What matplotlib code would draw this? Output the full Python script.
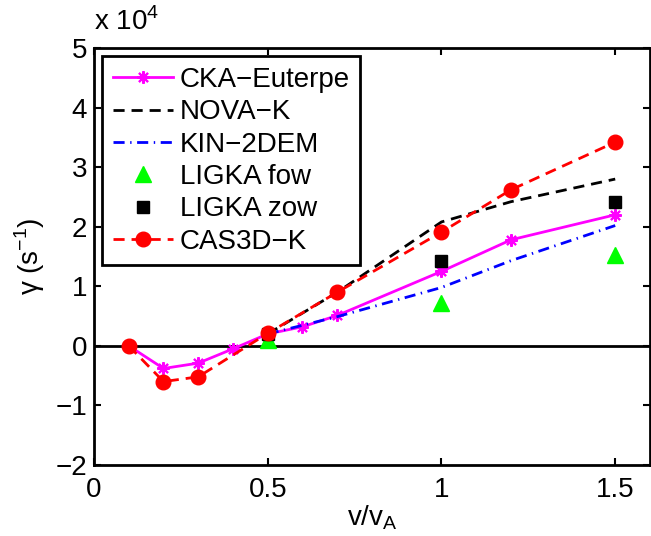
import matplotlib
matplotlib.use('Agg')
import matplotlib.pyplot as plt

plt.rcParams['font.family'] = ['Liberation Sans', 'DejaVu Sans']
plt.rcParams['mathtext.fontset'] = 'custom'
plt.rcParams['mathtext.rm'] = 'Liberation Sans'
plt.rcParams['lines.scale_dashes'] = False

# growth rates in units of 1e4 s^-1
x_cka = [0.1, 0.2, 0.3, 0.4, 0.5, 0.6, 0.7, 1.0, 1.2, 1.5]
y_cka = [0.0, -0.38, -0.29, -0.05, 0.2, 0.32, 0.51, 1.25, 1.78, 2.2]

x_nova = [0.5, 0.7, 1.0, 1.2, 1.5]
y_nova = [0.2, 0.9, 2.08, 2.42, 2.8]

x_kin = [0.5, 0.7, 1.0, 1.2, 1.5]
y_kin = [0.2, 0.49, 0.98, 1.43, 2.02]

x_fow = [0.5, 1.0, 1.5]
y_fow = [0.1, 0.72, 1.52]

x_zow = [0.5, 1.0, 1.5]
y_zow = [0.2, 1.42, 2.42]

x_cas = [0.1, 0.2, 0.3, 0.5, 0.7, 1.0, 1.2, 1.5]
y_cas = [0.0, -0.6, -0.52, 0.21, 0.9, 1.91, 2.62, 3.42]

fs = 20
fig = plt.figure(figsize=(6.51, 5.36), dpi=100)
ax = fig.add_axes([0.1444, 0.1325, 0.8540, 0.7779])

ax.axhline(0, color='k', lw=2, zorder=1)

ax.plot(x_cka, y_cka, '-', color='#ff00ff', lw=2, marker=(8, 2, 0), ms=9,
        mew=1.5, label='CKA\u2212Euterpe')
ax.plot(x_nova, y_nova, color='k', lw=2, dashes=(8, 5), label='NOVA\u2212K')
ax.plot(x_kin, y_kin, color='#0000ff', lw=2, dashes=(8, 4, 1, 4), label='KIN\u22122DEM')
ax.plot(x_fow, y_fow, '^', color='#00ff00', ms=12, mec='#00ff00', ls='none', label='LIGKA fow')
ax.plot(x_zow, y_zow, 's', color='k', ms=8, ls='none', label='LIGKA zow')
ax.plot(x_cas, y_cas, color='#ff0000', lw=2, dashes=(8, 5), marker='o', ms=10.5,
        label='CAS3D\u2212K')

ax.set_xlim(0, 1.6)
ax.set_ylim(-2, 5)
ax.set_xticks([0, 0.5, 1, 1.5])
ax.set_xticklabels(['0', '0.5', '1', '1.5'])
ax.set_yticks(range(-2, 6))
ax.set_yticklabels(['\u22122', '\u22121', '0', '1', '2', '3', '4', '5'])
ax.tick_params(direction='in', length=5, width=1.5, top=True, right=True,
               labelsize=fs)
ax.tick_params(axis='x', pad=9)
ax.tick_params(axis='y', pad=5)
for s in ax.spines.values():
    s.set_linewidth(2)

ax.set_xlabel(r'v/v$_\mathregular{A}$', fontsize=fs, labelpad=0)
ax.set_ylabel('\u03b3 (s$^{\\mathregular{-1}}$)', fontsize=fs, labelpad=6)
ax.text(0.0, 1.03, r'x 10$^\mathregular{4}$', transform=ax.transAxes,
        fontsize=fs, ha='left', va='bottom')

leg = ax.legend(loc='upper left', fontsize=fs, numpoints=1, handlelength=2.15,
                handletextpad=0.25, labelspacing=0.23, borderpad=0.38,
                borderaxespad=0.3, fancybox=False, framealpha=1, edgecolor='k')
leg.get_frame().set_linewidth(2)

fig.savefig('out.png', dpi=100)
